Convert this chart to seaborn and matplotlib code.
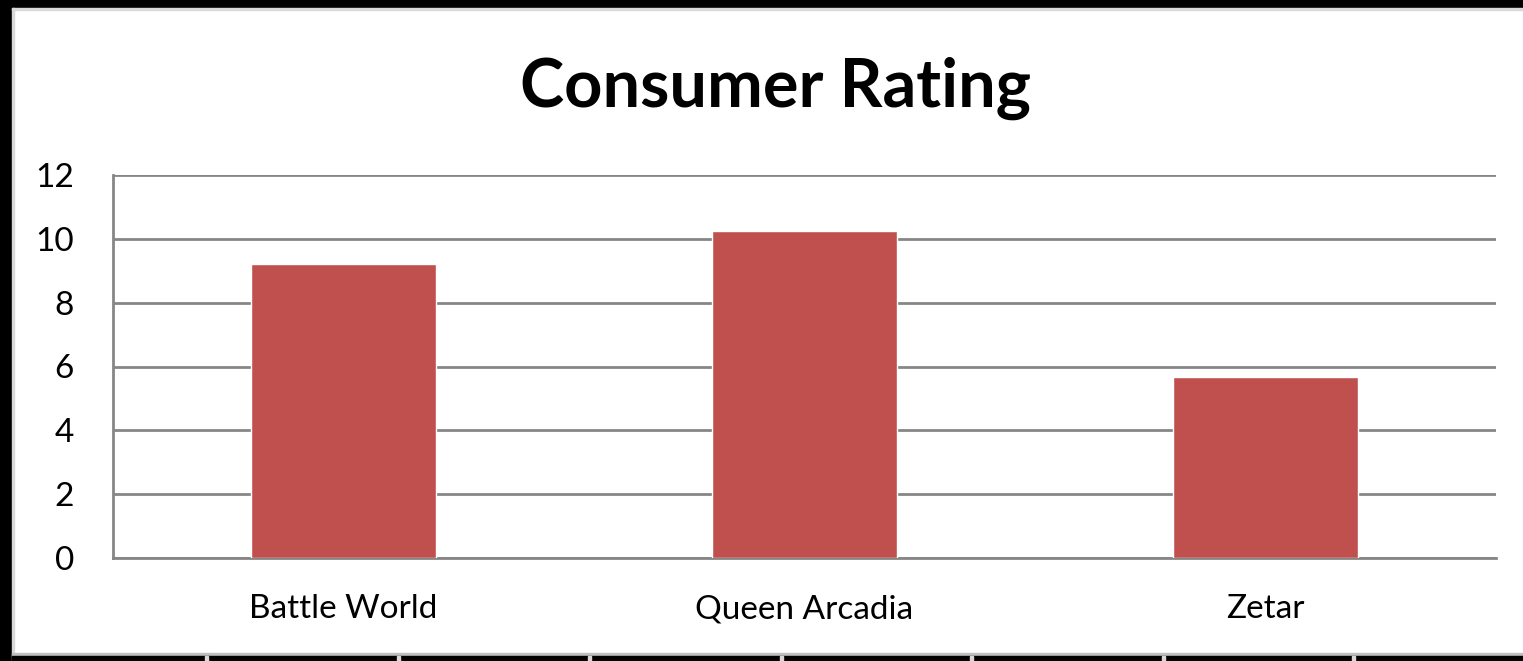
import numpy as np
import pandas as pd
import matplotlib.pyplot as plt
import seaborn as sns
from matplotlib.patches import Rectangle

games = ["Battle World", "Queen Arcadia", "Zetar"]
ratings = [9.2, 10.25, 5.67]
y_ticks = [0, 2, 4, 6, 8, 10, 12]

data = pd.DataFrame({"game": games, "rating": ratings})

sns.set_style("white")
plt.rcParams['font.family'] = ['Lato', 'DejaVu Sans']
plt.rcParams['text.color'] = 'black'
plt.rcParams['xtick.labelcolor'] = 'black'
plt.rcParams['ytick.labelcolor'] = 'black'

fig = plt.figure(figsize=(15.23, 6.61), dpi=100)
W, H = 1523, 661

# window frame bits around the chart (black edges + spreadsheet strip)
def px_rect(x, y, w, h, color, z=0):
    fig.patches.append(Rectangle((x / W, 1 - (y + h) / H), w / W, h / H,
                                 transform=fig.transFigure, color=color, zorder=z))

px_rect(0, 0, W, 8, "black")
px_rect(0, 0, 12, H, "black")
px_rect(12, 8, W - 12, 2, "#d9d9d9")
px_rect(12, 8, 2, H - 8, "#d9d9d9")
px_rect(12, 653, W - 12, 3, "#bfbfbf")
px_rect(12, 656, W - 12, 5, "black")
for sx in [205, 397, 588, 780, 970, 1162, 1352]:
    px_rect(sx, 656, 3, 5, "#d9d9d9")

ax = fig.add_axes([113 / W, 1 - 558 / H, (1496 - 113) / W, (558 - 175) / H])
sns.barplot(data=data, x="game", y="rating", color="#C0504D", width=0.4,
            saturation=1, ax=ax, zorder=3)

ax.set_ylim(0, 12)
ax.set_xlim(-0.5, 2.5)
ax.set_yticks(y_ticks)
ax.set_yticklabels([str(t) for t in y_ticks], fontsize=24)
ax.set_xticks(range(len(games)))
ax.set_xticklabels(games, fontsize=24)
ax.tick_params(axis="x", which="major", length=0, pad=26)
ax.set_xticks([-0.5, 0.5, 1.5, 2.5], minor=True)
ax.tick_params(axis="x", which="minor", length=10, width=2, color="#868686", direction="out")
ax.tick_params(axis="y", length=10, width=2, color="#868686", direction="out", pad=18)
ax.yaxis.grid(True, color="#868686", linewidth=2, zorder=0)
ax.set_axisbelow(True)
for s in ["top", "right"]:
    ax.spines[s].set_visible(False)
for s in ["left", "bottom"]:
    ax.spines[s].set_color("#868686")
    ax.spines[s].set_linewidth(2)
ax.set_xlabel("")
ax.set_ylabel("")

fig.text(0.509, 1 - 88 / H, "Consumer Rating", ha="center", va="center",
         fontsize=48, fontweight="bold")

fig.savefig("out.png", dpi=100)
